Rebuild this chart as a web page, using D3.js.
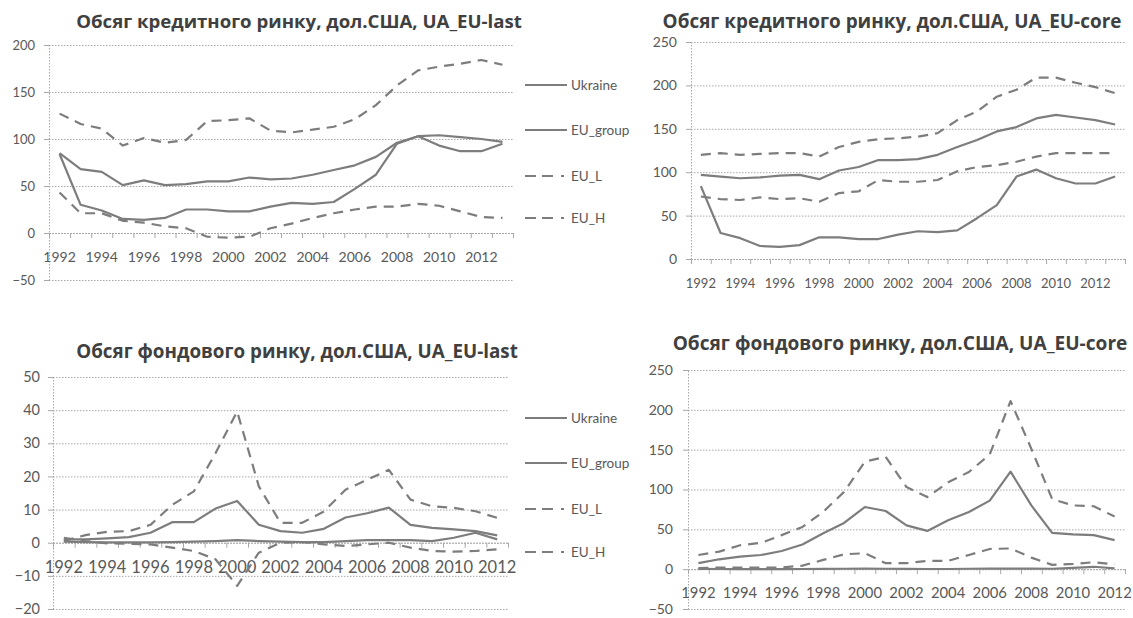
<!DOCTYPE html>
<html>
<head>
<meta charset="utf-8">
<script src="https://cdn.jsdelivr.net/npm/d3@7"></script>
<style>
  html, body { margin: 0; padding: 0; background: #ffffff; }
  svg { display: block; }
</style>
</head>
<body>
<svg id="chart" width="1133" height="618"></svg>
<script>
// ---------- DATA ----------
const yearsCredit = ["1992","1993","1994","1995","1996","1997","1998","1999","2000","2001","2002","2003","2004","2005","2006","2007","2008","2009","2010","2011","2012","2013"];
const yearsStock  = ["1992","1993","1994","1995","1996","1997","1998","1999","2000","2001","2002","2003","2004","2005","2006","2007","2008","2009","2010","2011","2012"];

const seriesNames = ["Ukraine", "EU_group", "EU_L", "EU_H"];

// Credit market, UA_EU-last
const creditUkraine     = [84, 30, 24, 15, 14, 16, 25, 25, 23, 23, 28, 32, 31, 33, 47, 62, 95, 103, 93, 87, 87, 95];
const creditGroupLast   = [85, 68, 65, 51, 56, 51, 52, 55, 55, 59, 57, 58, 62, 67, 72, 81, 96, 103, 104, 102, 100, 97];
const creditLLast       = [127, 116, 111, 93, 101, 96, 99, 119, 120, 122, 109, 107, 110, 113, 121, 136, 157, 173, 177, 180, 184, 179];
const creditHLast       = [43, 21, 21, 13, 11, 7, 5, -4, -5, -4, 5, 10, 16, 21, 25, 28, 28, 31, 29, 23, 17, 16];

// Credit market, UA_EU-core
const creditGroupCore   = [97, 95, 93, 94, 96, 97, 92, 102, 106, 114, 114, 115, 120, 129, 137, 147, 152, 162, 166, 163, 160, 155];
const creditLCore       = [120, 122, 120, 121, 122, 122, 118, 129, 135, 138, 139, 141, 145, 160, 170, 187, 195, 209, 209, 203, 198, 191];
const creditHCore       = [72, 69, 68, 71, 69, 70, 66, 76, 78, 91, 89, 89, 91, 101, 106, 108, 112, 118, 122, 122, 122, 122];

// Stock market, UA_EU-last
const stockUkraine      = [0.3, 0.2, 0.1, 0.1, 0.1, 0.2, 0.3, 0.5, 0.8, 0.5, 0.3, 0.2, 0.2, 0.5, 0.8, 0.8, 0.8, 0.5, 1.5, 3.0, 1.0];
const stockGroupLast    = [1, 1, 1.3, 1.7, 3, 6.2, 6.2, 10.3, 12.6, 5.4, 3.5, 3.0, 4.2, 7.6, 8.9, 10.6, 5.4, 4.5, 4, 3.5, 2.2];
const stockLLast        = [0.5, 2.3, 3.3, 3.5, 5.4, 11.4, 15.5, 27, 39.6, 17, 6, 6, 9.4, 16, 19, 22, 13, 11, 10.5, 9.5, 7.5];
const stockHLast        = [1.5, 0.5, -0.2, -0.3, -0.5, -1.5, -2.5, -5, -13, -3, 0, 0.2, -0.5, -1, -0.5, 0, -1.5, -2.5, -2.7, -2.5, -2];

// Stock market, UA_EU-core
const stockGroupCore    = [7.5, 12.4, 15.8, 17.8, 22.8, 31, 45, 58, 78, 73, 55, 48, 61.5, 71.8, 86, 122.4, 80, 45.6, 43.6, 42.7, 36.5];
const stockLCore        = [17.8, 22, 30, 33, 42.7, 53, 72, 97, 135, 141, 103, 90.5, 109, 122, 144, 211, 151, 88, 80, 79, 66];
const stockHCore        = [1.2, 2, 2, 2, 2, 4.5, 11.6, 18.7, 20, 7.5, 7.5, 10.4, 10.4, 17.8, 25.3, 26, 14.5, 5.4, 6.6, 8.7, 6.2];

// Axis tick values
const ticksCreditLast = [-50, 0, 50, 100, 150, 200];
const ticksCreditCore = [0, 50, 100, 150, 200, 250];
const ticksStockLast  = [-20, -10, 0, 10, 20, 30, 40, 50];
const ticksStockCore  = [-50, 0, 50, 100, 150, 200, 250];

const titles = [
  "Обсяг кредитного ринку, дол.США, UA_EU-last",
  "Обсяг кредитного ринку, дол.США, UA_EU-core",
  "Обсяг фондового ринку, дол.США, UA_EU-last",
  "Обсяг фондового ринку, дол.США, UA_EU-core"
];

// ---------- DRAWING ----------
const svg = d3.select("#chart");
svg.append("rect").attr("width", 1133).attr("height", 618).attr("fill", "#ffffff");

const LINE_COLOR = "#7d7d7d";
const GRID_COLOR = "#a8a8a8";
const TEXT_COLOR = "#595959";
const LABEL_FONT = "Lato, 'Open Sans', sans-serif";
const TITLE_FONT = "'Open Sans', 'Noto Sans', sans-serif";

function drawPanel(p) {
  const g = svg.append("g");
  const x = d3.scaleBand().domain(p.cats).range([p.x0, p.x1]).paddingInner(0).paddingOuter(0);
  const y = d3.scaleLinear().domain(p.domain).range([p.yBottom, p.yTop]);
  const cx = c => x(c) + x.bandwidth() / 2;

  // gridlines
  const grid = g.append("g").attr("transform", `translate(${p.x0},0)`)
    .call(d3.axisLeft(y).tickValues(p.ticks).tickSize(-(p.x1 - p.x0)).tickFormat(""));
  grid.select(".domain").remove();
  grid.selectAll(".tick line").attr("stroke", GRID_COLOR).attr("stroke-width", 1).attr("stroke-dasharray", "1.5,1.5");

  // y axis with labels
  const ya = g.append("g").attr("transform", `translate(${p.x0},0)`)
    .call(d3.axisLeft(y).tickValues(p.ticks).tickSize(5).tickPadding(p.yPad).tickSizeOuter(0));
  ya.select(".domain").attr("stroke", GRID_COLOR).attr("stroke-dasharray", "1.5,1.5");
  ya.selectAll(".tick line").attr("stroke", GRID_COLOR);
  ya.selectAll(".tick text").attr("fill", TEXT_COLOR).style("font-family", LABEL_FONT).style("font-size", p.yFont + "px");

  // x axis at zero: tick marks at category boundaries
  const idx = d3.scaleLinear().domain([0, p.cats.length]).range([p.x0, p.x1]);
  const xt = g.append("g").attr("transform", `translate(0,${y(0)})`)
    .call(d3.axisBottom(idx).tickValues(d3.range(p.cats.length + 1)).tickSize(5).tickFormat("").tickSizeOuter(0));
  xt.select(".domain").attr("stroke", GRID_COLOR).attr("stroke-dasharray", "1.5,1.5");
  xt.selectAll(".tick line").attr("stroke", GRID_COLOR);

  // x labels every two years
  const labelled = p.cats.filter((c, i) => i % 2 === 0);
  const xl = g.append("g").attr("transform", `translate(0,${y(0)})`)
    .call(d3.axisBottom(x).tickValues(labelled).tickSize(0));
  xl.select(".domain").remove();
  xl.selectAll(".tick text").attr("y", p.xLabelOffset).attr("dy", "0.35em")
    .attr("fill", TEXT_COLOR).style("font-family", LABEL_FONT).style("font-size", p.xFont + "px");

  // series lines
  const line = d3.line().x((d, i) => cx(p.cats[i])).y(d => y(d));
  p.series.forEach(s => {
    g.append("path").datum(s.values)
      .attr("d", line)
      .attr("fill", "none")
      .attr("stroke", LINE_COLOR)
      .attr("stroke-width", 2.2)
      .attr("stroke-linejoin", "round")
      .attr("stroke-dasharray", s.dashed ? "10,7" : null);
  });

  // title (fit to measured width)
  const t = g.append("text")
    .attr("x", p.titleX).attr("y", p.titleY)
    .attr("text-anchor", "middle").attr("dominant-baseline", "central")
    .attr("fill", "#404040").style("font-family", TITLE_FONT).style("font-weight", "700")
    .style("font-size", "16px").text(p.title);
  const w = t.node().getComputedTextLength();
  t.style("font-size", (16 * p.titleWidth / w).toFixed(2) + "px");
}

function drawLegend(ys) {
  const g = svg.append("g");
  seriesNames.forEach((name, i) => {
    const dashed = name === "EU_L" || name === "EU_H";
    g.append("line").attr("x1", 525).attr("x2", 567).attr("y1", ys[i]).attr("y2", ys[i])
      .attr("stroke", LINE_COLOR).attr("stroke-width", 2.2)
      .attr("stroke-dasharray", dashed ? "11,6,11,8,3" : null);
    g.append("text").attr("x", 571).attr("y", ys[i]).attr("dy", "0.35em")
      .attr("fill", TEXT_COLOR).style("font-family", LABEL_FONT).style("font-size", "13.5px")
      .text(name);
  });
}

drawPanel({
  cats: yearsCredit, x0: 49, x1: 513, yTop: 45, yBottom: 280, domain: [-50, 200], ticks: ticksCreditLast,
  yPad: 9, yFont: 13, xFont: 14, xLabelOffset: 24,
  title: titles[0], titleX: 299, titleY: 20, titleWidth: 446,
  series: [
    { values: creditHLast, dashed: true },
    { values: creditLLast, dashed: true },
    { values: creditGroupLast, dashed: false },
    { values: creditUkraine, dashed: false }
  ]
});

drawPanel({
  cats: yearsCredit, x0: 691, x1: 1125, yTop: 42, yBottom: 259, domain: [0, 250], ticks: ticksCreditCore,
  yPad: 9, yFont: 14, xFont: 13, xLabelOffset: 24,
  title: titles[1], titleX: 892, titleY: 21, titleWidth: 459,
  series: [
    { values: creditHCore, dashed: true },
    { values: creditLCore, dashed: true },
    { values: creditGroupCore, dashed: false },
    { values: creditUkraine, dashed: false }
  ]
});

drawPanel({
  cats: yearsStock, x0: 53, x1: 508, yTop: 377, yBottom: 609, domain: [-20, 50], ticks: ticksStockLast,
  yPad: 8, yFont: 14.5, xFont: 16.5, xLabelOffset: 25,
  title: titles[2], titleX: 297, titleY: 351, titleWidth: 442,
  series: [
    { values: stockHLast, dashed: true },
    { values: stockLLast, dashed: true },
    { values: stockGroupLast, dashed: false },
    { values: stockUkraine, dashed: false }
  ]
});

drawPanel({
  cats: yearsStock, x0: 688, x1: 1125, yTop: 370, yBottom: 609, domain: [-50, 250], ticks: ticksStockCore,
  yPad: 10, yFont: 14, xFont: 14.8, xLabelOffset: 24,
  title: titles[3], titleX: 900, titleY: 343, titleWidth: 455,
  series: [
    { values: stockHCore, dashed: true },
    { values: stockLCore, dashed: true },
    { values: stockGroupCore, dashed: false },
    { values: stockUkraine, dashed: false }
  ]
});

drawLegend([85, 130, 176, 218]);
drawLegend([418, 463, 509, 552]);
</script>
</body>
</html>
